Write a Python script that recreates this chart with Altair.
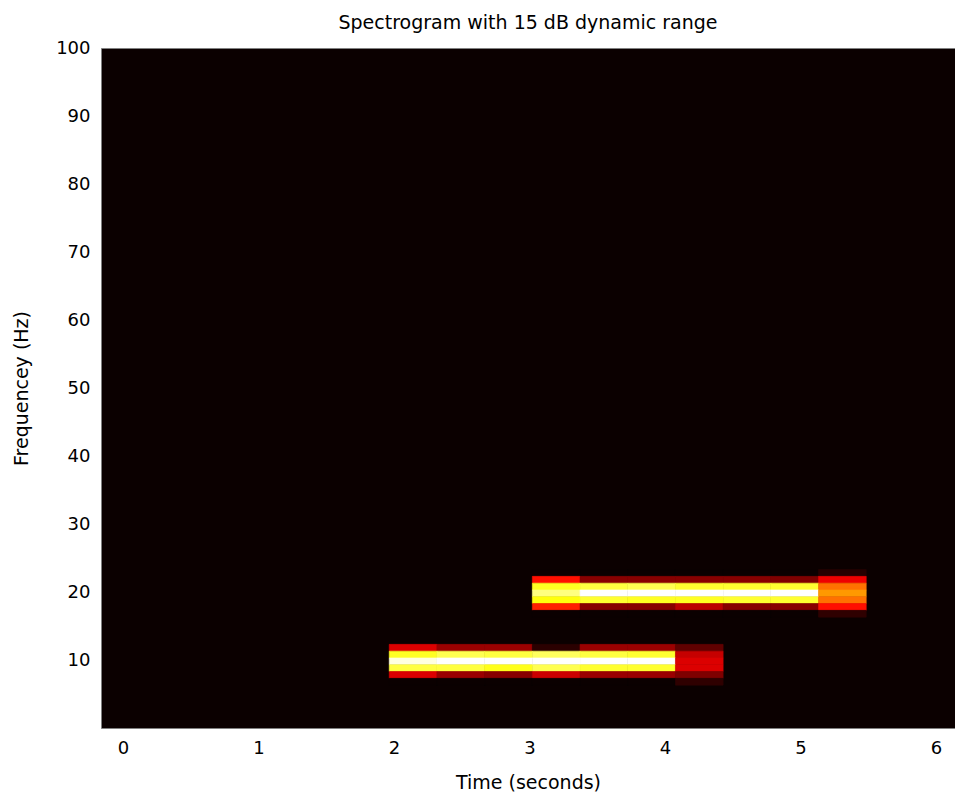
import altair as alt
import pandas as pd

# ---- data ----
# time-bin centres (seconds) of the spectrogram columns that carry energy
times = [2.141, 2.493, 2.845, 3.197, 3.549, 3.901, 4.253, 4.605, 4.957, 5.309]
time_bin = 0.352   # seconds per column
freq_bin = 1.0     # Hz per row

# 10 Hz tone: rows (centre freq, Hz) -> level (dB) in columns 0..6
low_freqs = [11.8, 10.8, 9.8, 8.8, 7.8, 6.8]
low_db = [
    [-10.3, -11.8, -11.8, -14.3, -11.8, -11.8, -13.1],
    [-3.3, -2.6, -2.85, -2.4, -2.85, -3.1, -10.8],
    [-0.5, 0.0, 0.0, 0.0, 0.0, 0.0, -10.3],
    [-2.85, -2.85, -3.4, -2.6, -3.1, -3.1, -10.3],
    [-10.3, -11.8, -12.2, -10.7, -11.8, -11.8, -12.4],
    [-15, -15, -15, -15, -15, -15, -14.2],
]
low_cols = times[0:7]

# 20 Hz tone: rows (centre freq, Hz) -> level (dB) in columns 3..9
high_freqs = [22.8, 21.8, 20.8, 19.8, 18.8, 17.8, 16.8]
high_db = [
    [-15, -15, -15, -15, -15, -15, -14.4],
    [-9.2, -12.2, -12.2, -12.2, -12.2, -12.4, -9.9],
    [-3.3, -2.85, -2.6, -3.1, -3.1, -3.1, -7.0],
    [-1.9, 0.0, 0.0, 0.0, 0.0, 0.0, -6.1],
    [-3.6, -3.1, -3.3, -3.3, -3.1, -3.1, -7.0],
    [-8.8, -12.2, -12.2, -11.05, -12.2, -12.2, -9.2],
    [-15, -15, -15, -15, -15, -15, -14.2],
]
high_cols = times[3:10]

x_ticks = [0, 1, 2, 3, 4, 5, 6]
y_ticks = [10, 20, 30, 40, 50, 60, 70, 80, 90, 100]

rows = []
for freqs, cols, grid in ((low_freqs, low_cols, low_db), (high_freqs, high_cols, high_db)):
    for f, levels in zip(freqs, grid):
        for t, db in zip(cols, levels):
            rows.append({"t": t, "f": f, "db": db})
df = pd.DataFrame(rows)

FONT = "DejaVu Sans"

hot = alt.Scale(
    domain=[-15, -9.525, -3.81, 0],
    range=["#0b0000", "#ff0000", "#ffff00", "#ffffff"],
    clamp=True,
    interpolate="rgb",
)

chart = (
    alt.Chart(df)
    .transform_calculate(
        t0=f"datum.t - {time_bin / 2}",
        t1=f"datum.t + {time_bin / 2}",
        f0=f"datum.f - {freq_bin / 2}",
        f1=f"datum.f + {freq_bin / 2}",
    )
    .mark_rect(strokeWidth=0.6)
    .encode(
        x=alt.X(
            "t0:Q",
            scale=alt.Scale(domain=[-0.162, 6.14], nice=False, zero=False),
            axis=alt.Axis(
                title="Time (seconds)",
                values=x_ticks,
                format="d",
                grid=False,
                ticks=False,
                domain=False,
                labelPadding=11,
                titlePadding=16,
            ),
        ),
        x2="t1:Q",
        y=alt.Y(
            "f0:Q",
            scale=alt.Scale(domain=[0, 100], nice=False, zero=False),
            axis=alt.Axis(
                title="Frequencey (Hz)",
                values=y_ticks,
                format="d",
                grid=False,
                ticks=False,
                domain=False,
                labelPadding=11,
                titleX=-70,
            ),
        ),
        y2="f1:Q",
        color=alt.Color("db:Q", scale=hot, legend=None),
        stroke=alt.Stroke("db:Q", scale=hot, legend=None),
    )
    .properties(
        width=854,
        height=680,
        title=alt.Title("Spectrogram with 15 dB dynamic range", offset=6),
        autosize=alt.AutoSizeParams(type="none"),
        padding={"left": 101, "top": 48, "right": 0, "bottom": 68},
        background="#ffffff",
    )
    .configure_view(fill="#0b0000", stroke="#808080", strokeWidth=1)
    .configure_axis(
        labelFont=FONT,
        labelFontSize=18,
        labelColor="#000000",
        titleFont=FONT,
        titleFontSize=19,
        titleFontWeight="normal",
        titleColor="#000000",
    )
    .configure_title(font=FONT, fontSize=19, fontWeight="normal", color="#000000", anchor="middle")
)

chart.save("out.html", embed_options={"renderer": "svg", "actions": False})
